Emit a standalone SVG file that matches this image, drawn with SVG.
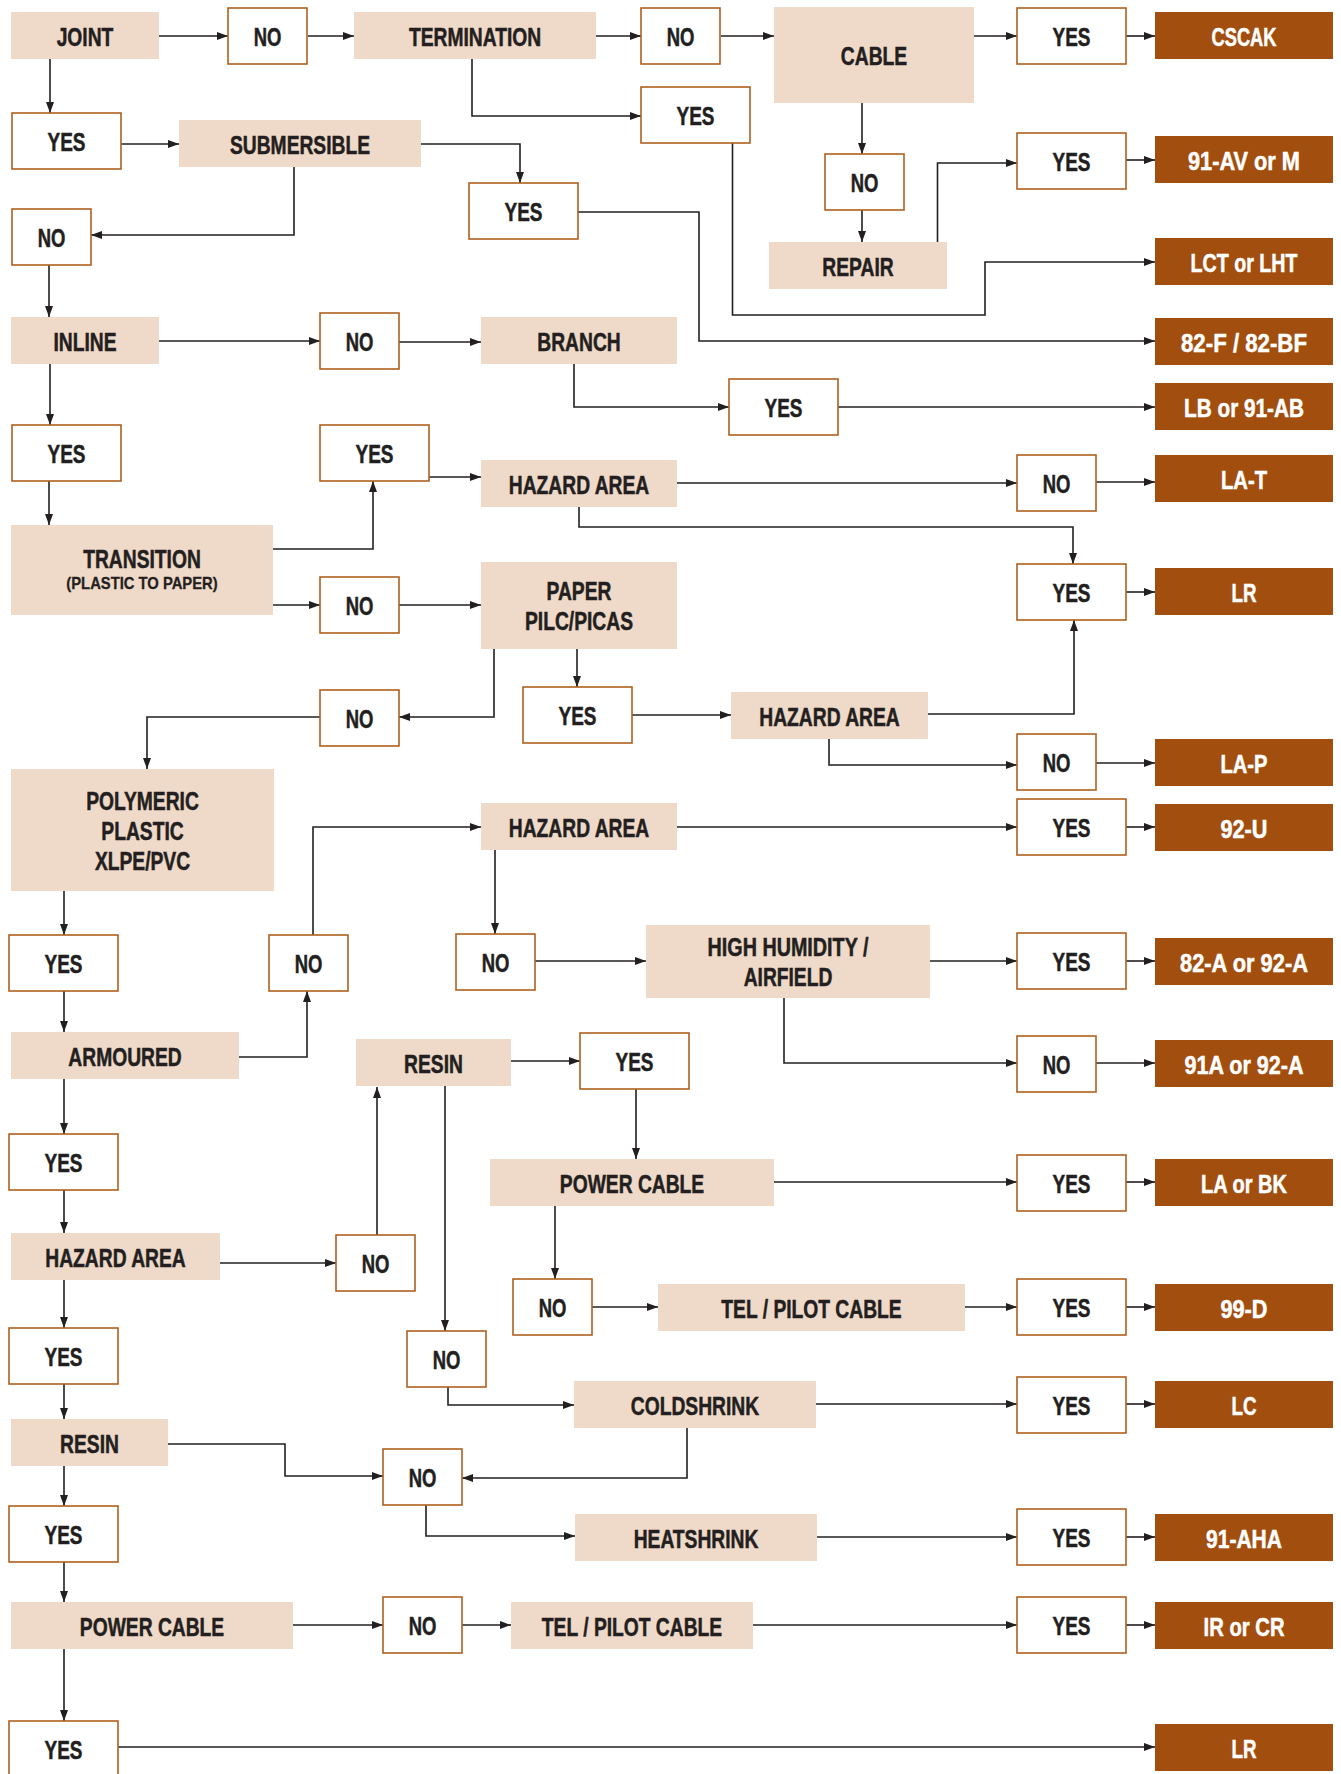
<svg xmlns="http://www.w3.org/2000/svg" width="1341" height="1774" viewBox="0 0 1341 1774">
<style>
.q{fill:#EFD9C8}
.a{fill:#fff;stroke:#B0601E;stroke-width:1.6}
.r{fill:#A24E0E}
text{font-family:"Liberation Sans",Arial,sans-serif;font-weight:bold;font-size:25px;text-anchor:middle;fill:#231F20;stroke:#231F20;stroke-width:.5}
.w{fill:#fff;stroke:#fff}
.s{font-size:17px;stroke-width:.3}
#connectors path{fill:none;stroke:#231F20;stroke-width:1.6;marker-end:url(#ah)}
</style>
<defs>
<marker id="ah" viewBox="0 0 11 8" refX="11" refY="4" markerWidth="11" markerHeight="8" markerUnits="userSpaceOnUse" orient="auto">
<path d="M0,0 L11,4 L0,8 z" fill="#231F20"/>
</marker>
</defs>
<rect width="1341" height="1774" fill="#fff"/>
<g id="connectors">
<path d="M159,36 H228"/>
<path d="M308,36 H354"/>
<path d="M596,36 H641"/>
<path d="M721,36 H774"/>
<path d="M974,36 H1017"/>
<path d="M1126,36 H1155"/>
<path d="M50,59 V113"/>
<path d="M121,144 H179"/>
<path d="M421,144 H520 V183"/>
<path d="M294,167 V235 H91"/>
<path d="M472,59 V116 H641"/>
<path d="M578,212 H699 V341 H1155"/>
<path d="M732.5,143 V315 H985 V262 H1155"/>
<path d="M862,103 V154"/>
<path d="M862,210 V242"/>
<path d="M937.5,242 V163 H1017"/>
<path d="M1126,160 H1155"/>
<path d="M49,265 V317"/>
<path d="M159,341 H320"/>
<path d="M399,342 H481"/>
<path d="M574,364 V407 H729"/>
<path d="M838,407 H1155"/>
<path d="M50,364 V425"/>
<path d="M49,481 V525"/>
<path d="M273,549 H373 V481"/>
<path d="M429,477 H481"/>
<path d="M677,483 H1017"/>
<path d="M1096,482 H1155"/>
<path d="M579,507 V527 H1073 V564"/>
<path d="M1126,592 H1155"/>
<path d="M273,605 H320"/>
<path d="M399,605 H481"/>
<path d="M577,649 V687"/>
<path d="M494,649 V717 H399"/>
<path d="M632,715 H731"/>
<path d="M928,714 H1074 V620"/>
<path d="M829,739 V765 H1017"/>
<path d="M1096,763 H1155"/>
<path d="M320,717 H147 V769"/>
<path d="M64,891 V935"/>
<path d="M64,991 V1032"/>
<path d="M239,1057 H307 V991"/>
<path d="M313,935 V827 H481"/>
<path d="M677,827 H1017"/>
<path d="M1126,827 H1155"/>
<path d="M495,850 V934"/>
<path d="M535,961 H646"/>
<path d="M930,961 H1017"/>
<path d="M1126,961 H1155"/>
<path d="M784,998 V1063 H1017"/>
<path d="M1096,1063 H1155"/>
<path d="M64,1079 V1134"/>
<path d="M64,1190 V1233"/>
<path d="M220,1263 H336"/>
<path d="M377,1235 V1087"/>
<path d="M511,1061 H580"/>
<path d="M636,1089 V1159"/>
<path d="M774,1182 H1017"/>
<path d="M1126,1182 H1155"/>
<path d="M555,1206 V1279"/>
<path d="M592,1307 H658"/>
<path d="M965,1307 H1017"/>
<path d="M1126,1307 H1155"/>
<path d="M445,1086 V1331"/>
<path d="M448,1387 V1405 H574"/>
<path d="M816,1404 H1017"/>
<path d="M1126,1404 H1155"/>
<path d="M687,1428 V1478 H462"/>
<path d="M64,1280 V1328"/>
<path d="M64,1384 V1419"/>
<path d="M168,1444 H285 V1476 H383"/>
<path d="M426,1505 V1536 H575"/>
<path d="M817,1537 H1017"/>
<path d="M1126,1537 H1155"/>
<path d="M64,1466 V1506"/>
<path d="M64,1562 V1602"/>
<path d="M293,1625 H383"/>
<path d="M462,1625 H511"/>
<path d="M753,1625 H1017"/>
<path d="M1126,1625 H1155"/>
<path d="M64,1649 V1721"/>
<path d="M118,1747 H1155"/>
</g>
<g id="joint"><rect class="q" x="11" y="12" width="148" height="47"/><text transform="translate(85 46) scale(.77 1)">JOINT</text></g>
<g id="termination"><rect class="q" x="354" y="12" width="242" height="47"/><text transform="translate(475 46) scale(.77 1)">TERMINATION</text></g>
<g id="cable"><rect class="q" x="774" y="7" width="200" height="96"/><text transform="translate(874 65) scale(.77 1)">CABLE</text></g>
<g id="submersible"><rect class="q" x="179" y="120" width="242" height="47"/><text transform="translate(300 154) scale(.77 1)">SUBMERSIBLE</text></g>
<g id="repair"><rect class="q" x="769" y="242" width="178" height="47"/><text transform="translate(858 276) scale(.77 1)">REPAIR</text></g>
<g id="inline"><rect class="q" x="11" y="317" width="148" height="47"/><text transform="translate(85 351) scale(.77 1)">INLINE</text></g>
<g id="branch"><rect class="q" x="481" y="317" width="196" height="47"/><text transform="translate(579 351) scale(.77 1)">BRANCH</text></g>
<g id="hazard1"><rect class="q" x="481" y="460" width="196" height="47"/><text transform="translate(579 494) scale(.77 1)">HAZARD AREA</text></g>
<g id="transition"><rect class="q" x="11" y="525" width="262" height="90"/><text transform="translate(142 568) scale(.77 1)">TRANSITION</text><text class="s" transform="translate(142 589) scale(.87 1)">(PLASTIC TO PAPER)</text></g>
<g id="paper"><rect class="q" x="481" y="562" width="196" height="87"/><text transform="translate(579 600) scale(.77 1)">PAPER</text><text transform="translate(579 630) scale(.77 1)">PILC/PICAS</text></g>
<g id="hazard3"><rect class="q" x="731" y="692" width="197" height="47"/><text transform="translate(829.5 726) scale(.77 1)">HAZARD AREA</text></g>
<g id="polymeric"><rect class="q" x="11" y="769" width="263" height="122"/><text transform="translate(142.5 810) scale(.77 1)">POLYMERIC</text><text transform="translate(142.5 840) scale(.77 1)">PLASTIC</text><text transform="translate(142.5 870) scale(.77 1)">XLPE/PVC</text></g>
<g id="hazard2"><rect class="q" x="481" y="803" width="196" height="47"/><text transform="translate(579 837) scale(.77 1)">HAZARD AREA</text></g>
<g id="humidity"><rect class="q" x="646" y="925" width="284" height="73"/><text transform="translate(788 956) scale(.79 1)">HIGH HUMIDITY /</text><text transform="translate(788 986) scale(.77 1)">AIRFIELD</text></g>
<g id="armoured"><rect class="q" x="11" y="1032" width="228" height="47"/><text transform="translate(125 1066) scale(.77 1)">ARMOURED</text></g>
<g id="resin1"><rect class="q" x="356" y="1039" width="155" height="47"/><text transform="translate(433.5 1073) scale(.77 1)">RESIN</text></g>
<g id="powercable1"><rect class="q" x="490" y="1159" width="284" height="47"/><text transform="translate(632 1193) scale(.77 1)">POWER CABLE</text></g>
<g id="hazard4"><rect class="q" x="11" y="1233" width="209" height="47"/><text transform="translate(115.5 1267) scale(.77 1)">HAZARD AREA</text></g>
<g id="tel1"><rect class="q" x="658" y="1284" width="307" height="47"/><text transform="translate(811.5 1318) scale(.77 1)">TEL / PILOT CABLE</text></g>
<g id="coldshrink"><rect class="q" x="574" y="1381" width="242" height="47"/><text transform="translate(695 1415) scale(.77 1)">COLDSHRINK</text></g>
<g id="resin2"><rect class="q" x="11" y="1419" width="157" height="47"/><text transform="translate(89.5 1453) scale(.77 1)">RESIN</text></g>
<g id="heatshrink"><rect class="q" x="575" y="1514" width="242" height="47"/><text transform="translate(696 1548) scale(.77 1)">HEATSHRINK</text></g>
<g id="powercable2"><rect class="q" x="11" y="1602" width="282" height="47"/><text transform="translate(152 1636) scale(.77 1)">POWER CABLE</text></g>
<g id="tel2"><rect class="q" x="511" y="1602" width="242" height="47"/><text transform="translate(632 1636) scale(.77 1)">TEL / PILOT CABLE</text></g>
<g id="no1"><rect class="a" x="228" y="8" width="79" height="56"/><text transform="translate(267.5 46) scale(.74 1)">NO</text></g>
<g id="no2"><rect class="a" x="641" y="8" width="79" height="56"/><text transform="translate(680.5 46) scale(.74 1)">NO</text></g>
<g id="yes6"><rect class="a" x="1017" y="8" width="109" height="56"/><text transform="translate(1071.5 46) scale(.76 1)">YES</text></g>
<g id="yes1"><rect class="a" x="12" y="113" width="109" height="56"/><text transform="translate(66.5 151) scale(.76 1)">YES</text></g>
<g id="yes2"><rect class="a" x="641" y="87" width="109" height="56"/><text transform="translate(695.5 125) scale(.76 1)">YES</text></g>
<g id="yes7"><rect class="a" x="1017" y="133" width="109" height="56"/><text transform="translate(1071.5 171) scale(.76 1)">YES</text></g>
<g id="no5"><rect class="a" x="825" y="154" width="79" height="56"/><text transform="translate(864.5 192) scale(.74 1)">NO</text></g>
<g id="yes3"><rect class="a" x="469" y="183" width="109" height="56"/><text transform="translate(523.5 221) scale(.76 1)">YES</text></g>
<g id="no3"><rect class="a" x="12" y="209" width="79" height="56"/><text transform="translate(51.5 247) scale(.74 1)">NO</text></g>
<g id="no4"><rect class="a" x="320" y="313" width="79" height="56"/><text transform="translate(359.5 351) scale(.74 1)">NO</text></g>
<g id="yes8"><rect class="a" x="729" y="379" width="109" height="56"/><text transform="translate(783.5 417) scale(.76 1)">YES</text></g>
<g id="yes4"><rect class="a" x="12" y="425" width="109" height="56"/><text transform="translate(66.5 463) scale(.76 1)">YES</text></g>
<g id="yes5"><rect class="a" x="320" y="425" width="109" height="56"/><text transform="translate(374.5 463) scale(.76 1)">YES</text></g>
<g id="no9"><rect class="a" x="1017" y="455" width="79" height="56"/><text transform="translate(1056.5 493) scale(.74 1)">NO</text></g>
<g id="yes9"><rect class="a" x="1017" y="564" width="109" height="56"/><text transform="translate(1071.5 602) scale(.76 1)">YES</text></g>
<g id="no6"><rect class="a" x="320" y="577" width="79" height="56"/><text transform="translate(359.5 615) scale(.74 1)">NO</text></g>
<g id="yes10"><rect class="a" x="523" y="687" width="109" height="56"/><text transform="translate(577.5 725) scale(.76 1)">YES</text></g>
<g id="no7"><rect class="a" x="320" y="690" width="79" height="56"/><text transform="translate(359.5 728) scale(.74 1)">NO</text></g>
<g id="no10"><rect class="a" x="1017" y="734" width="79" height="56"/><text transform="translate(1056.5 772) scale(.74 1)">NO</text></g>
<g id="yes11"><rect class="a" x="1017" y="799" width="109" height="56"/><text transform="translate(1071.5 837) scale(.76 1)">YES</text></g>
<g id="yes15"><rect class="a" x="1017" y="933" width="109" height="56"/><text transform="translate(1071.5 971) scale(.76 1)">YES</text></g>
<g id="no8"><rect class="a" x="269" y="935" width="79" height="56"/><text transform="translate(308.5 973) scale(.74 1)">NO</text></g>
<g id="yes12"><rect class="a" x="9" y="935" width="109" height="56"/><text transform="translate(63.5 973) scale(.76 1)">YES</text></g>
<g id="no11"><rect class="a" x="456" y="934" width="79" height="56"/><text transform="translate(495.5 972) scale(.74 1)">NO</text></g>
<g id="yes14"><rect class="a" x="580" y="1033" width="109" height="56"/><text transform="translate(634.5 1071) scale(.76 1)">YES</text></g>
<g id="no15"><rect class="a" x="1017" y="1036" width="79" height="56"/><text transform="translate(1056.5 1074) scale(.74 1)">NO</text></g>
<g id="yes13"><rect class="a" x="9" y="1134" width="109" height="56"/><text transform="translate(63.5 1172) scale(.76 1)">YES</text></g>
<g id="yes16"><rect class="a" x="1017" y="1155" width="109" height="56"/><text transform="translate(1071.5 1193) scale(.76 1)">YES</text></g>
<g id="no12"><rect class="a" x="336" y="1235" width="79" height="56"/><text transform="translate(375.5 1273) scale(.74 1)">NO</text></g>
<g id="no14"><rect class="a" x="513" y="1279" width="79" height="56"/><text transform="translate(552.5 1317) scale(.74 1)">NO</text></g>
<g id="yes17"><rect class="a" x="1017" y="1279" width="109" height="56"/><text transform="translate(1071.5 1317) scale(.76 1)">YES</text></g>
<g id="yes18"><rect class="a" x="9" y="1328" width="109" height="56"/><text transform="translate(63.5 1366) scale(.76 1)">YES</text></g>
<g id="no13"><rect class="a" x="407" y="1331" width="79" height="56"/><text transform="translate(446.5 1369) scale(.74 1)">NO</text></g>
<g id="yes19"><rect class="a" x="1017" y="1377" width="109" height="56"/><text transform="translate(1071.5 1415) scale(.76 1)">YES</text></g>
<g id="no16"><rect class="a" x="383" y="1449" width="79" height="56"/><text transform="translate(422.5 1487) scale(.74 1)">NO</text></g>
<g id="yes21"><rect class="a" x="9" y="1506" width="109" height="56"/><text transform="translate(63.5 1544) scale(.76 1)">YES</text></g>
<g id="yes20"><rect class="a" x="1017" y="1509" width="109" height="56"/><text transform="translate(1071.5 1547) scale(.76 1)">YES</text></g>
<g id="no17"><rect class="a" x="383" y="1597" width="79" height="56"/><text transform="translate(422.5 1635) scale(.74 1)">NO</text></g>
<g id="yes22"><rect class="a" x="1017" y="1597" width="109" height="56"/><text transform="translate(1071.5 1635) scale(.76 1)">YES</text></g>
<g id="yes23"><rect class="a" x="9" y="1721" width="109" height="56"/><text transform="translate(63.5 1759) scale(.76 1)">YES</text></g>
<g id="r-cscak"><rect class="r" x="1155" y="12" width="178" height="47"/><text class="w" x="1244" y="46" textLength="65" lengthAdjust="spacingAndGlyphs">CSCAK</text></g>
<g id="r-91av"><rect class="r" x="1155" y="136" width="178" height="47"/><text class="w" x="1244" y="170" textLength="112" lengthAdjust="spacingAndGlyphs">91-AV or M</text></g>
<g id="r-lct"><rect class="r" x="1155" y="238" width="178" height="47"/><text class="w" x="1244" y="272" textLength="107" lengthAdjust="spacingAndGlyphs">LCT or LHT</text></g>
<g id="r-82f"><rect class="r" x="1155" y="318" width="178" height="47"/><text class="w" x="1244" y="352" textLength="126" lengthAdjust="spacingAndGlyphs">82-F / 82-BF</text></g>
<g id="r-lb"><rect class="r" x="1155" y="383" width="178" height="47"/><text class="w" x="1244" y="417" textLength="120" lengthAdjust="spacingAndGlyphs">LB or 91-AB</text></g>
<g id="r-lat"><rect class="r" x="1155" y="455" width="178" height="47"/><text class="w" x="1244" y="489" textLength="46" lengthAdjust="spacingAndGlyphs">LA-T</text></g>
<g id="r-lr1"><rect class="r" x="1155" y="568" width="178" height="47"/><text class="w" x="1244" y="602" textLength="25" lengthAdjust="spacingAndGlyphs">LR</text></g>
<g id="r-lap"><rect class="r" x="1155" y="739" width="178" height="47"/><text class="w" x="1244" y="773" textLength="47" lengthAdjust="spacingAndGlyphs">LA-P</text></g>
<g id="r-92u"><rect class="r" x="1155" y="804" width="178" height="47"/><text class="w" x="1244" y="838" textLength="47" lengthAdjust="spacingAndGlyphs">92-U</text></g>
<g id="r-82a"><rect class="r" x="1155" y="938" width="178" height="47"/><text class="w" x="1244" y="972" textLength="128" lengthAdjust="spacingAndGlyphs">82-A or 92-A</text></g>
<g id="r-91a"><rect class="r" x="1155" y="1040" width="178" height="47"/><text class="w" x="1244" y="1074" textLength="119" lengthAdjust="spacingAndGlyphs">91A or 92-A</text></g>
<g id="r-labk"><rect class="r" x="1155" y="1159" width="178" height="47"/><text class="w" x="1244" y="1193" textLength="86" lengthAdjust="spacingAndGlyphs">LA or BK</text></g>
<g id="r-99d"><rect class="r" x="1155" y="1284" width="178" height="47"/><text class="w" x="1244" y="1318" textLength="47" lengthAdjust="spacingAndGlyphs">99-D</text></g>
<g id="r-lc"><rect class="r" x="1155" y="1381" width="178" height="47"/><text class="w" x="1244" y="1415" textLength="25" lengthAdjust="spacingAndGlyphs">LC</text></g>
<g id="r-91aha"><rect class="r" x="1155" y="1514" width="178" height="47"/><text class="w" x="1244" y="1548" textLength="76" lengthAdjust="spacingAndGlyphs">91-AHA</text></g>
<g id="r-ircr"><rect class="r" x="1155" y="1602" width="178" height="47"/><text class="w" x="1244" y="1636" textLength="81" lengthAdjust="spacingAndGlyphs">IR or CR</text></g>
<g id="r-lr2"><rect class="r" x="1155" y="1724" width="178" height="47"/><text class="w" x="1244" y="1758" textLength="25" lengthAdjust="spacingAndGlyphs">LR</text></g>
</svg>
